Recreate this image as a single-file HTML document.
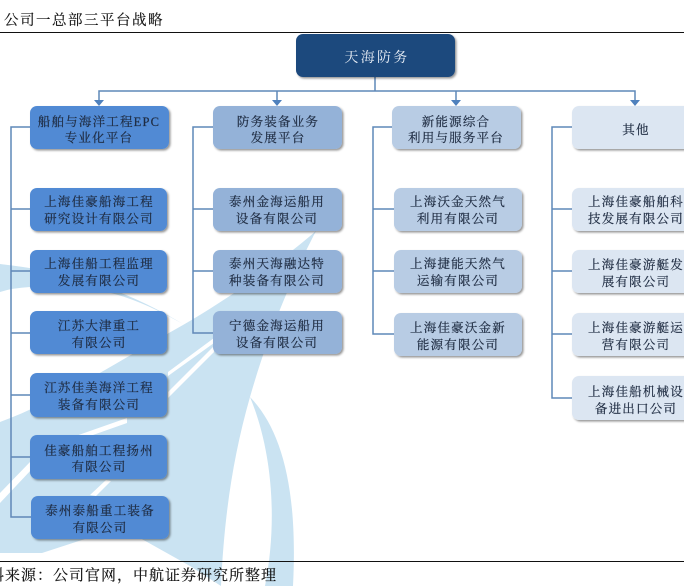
<!DOCTYPE html>
<html lang="zh">
<head>
<meta charset="utf-8">
<style>
html,body{margin:0;padding:0;background:#fff;}
body{width:684px;height:586px;overflow:hidden;}
svg{display:block;}
text{font-family:"Liberation Serif","Noto Serif CJK SC",serif;}
.t{font-size:12.5px;letter-spacing:1.2px;text-anchor:middle;fill:#1f2c42;stroke:#1f2c42;stroke-width:.2px;}
.w{fill:#e8eef6;font-size:14px;letter-spacing:2.3px;text-anchor:middle;}
.c{fill:none;stroke:#5f88b8;stroke-width:1.5;}
.a{fill:#4f81bd;}
</style>
</head>
<body>
<svg width="684" height="586" viewBox="0 0 684 586" xmlns="http://www.w3.org/2000/svg">
<defs>
<filter id="s" x="-10%" y="-15%" width="125%" height="135%">
<feDropShadow dx="1.5" dy="1.5" stdDeviation="1.1" flood-color="#000" flood-opacity=".42"/>
</filter>
</defs>

<!-- watermark -->
<g fill="#cae3f2">
<path d="M0 264 C50 270 110 280 183 324 C140 300 100 282 30 287 Q12 288 0 292Z"/>
<path d="M316 231 C300 262 272 320 250 397 C232 460 224 520 221 586 L190 566 L140 538 L85 539 L42 553 L0 553 L0 422 C60 400 120 360 183 325 C230 298 280 262 316 231Z"/>
<path d="M250 397 C282 430 298 490 293 586 L265 586 C278 520 272 450 250 397Z"/>
</g>
<g fill="#fff">
<path d="M214 338 L168 372 L168 376 L214 343Z"/>
<path d="M214 346 L168 392 L168 398 L214 352Z"/>
<path d="M127 418 L70 438 L76 441 L127 423Z"/>
<path d="M30 462 L0 493 L0 503 L32 469Z"/>
<path d="M106 480 L90 495 L96 496 L111 481Z"/>
</g>

<!-- rules -->
<rect x="0" y="32" width="684" height="1" fill="#111"/>
<rect x="0" y="561" width="684" height="1" fill="#111"/>
<text x="4" y="25" font-size="14.5" letter-spacing="1.5" fill="#111" stroke="#111" stroke-width=".15">公司一总部三平台战略</text>
<text x="-11" y="580" font-size="15" letter-spacing="1" fill="#111" stroke="#111" stroke-width=".15">料来源：公司官网，中航证券研究所整理</text>

<!-- connectors -->
<path class="c" d="M375 77V91M99 101V91H635V101M277 91V101M456 91V101"/>
<path class="a" d="M94 100h10l-5 6zM272 100h10l-5 6zM451 100h10l-5 6zM630 100h10l-5 6z"/>
<path class="c" d="M30 127H11V517H31M11 209H30M11 271H30M11 333H30M11 395H30M11 457H30"/>
<path class="c" d="M213 127H193V333H213M193 209H213M193 271H213"/>
<path class="c" d="M392 127H373V334H394M373 209H394M373 271H394"/>
<path class="c" d="M572 127H552V398H572M552 209H572M552 271H572M552 334H572"/>

<!-- top -->
<rect x="296" y="34" width="159" height="43" rx="7" fill="#1f497d" filter="url(#s)"/>
<text class="w" x="377" y="62">天海防务</text>

<!-- column 1 -->
<g fill="#518ad4" filter="url(#s)">
<rect x="30" y="106" width="139" height="43" rx="7"/>
<rect x="30" y="188" width="137" height="43" rx="7"/>
<rect x="30" y="250" width="137" height="43" rx="7"/>
<rect x="30" y="311" width="137" height="43" rx="7"/>
<rect x="30" y="373" width="137" height="44" rx="7"/>
<rect x="30" y="435" width="137" height="44" rx="7"/>
<rect x="31" y="496" width="138" height="43" rx="7"/>
</g>
<g transform="translate(0,1)">
<text class="t" x="99" y="125">船舶与海洋工程EPC</text><text class="t" x="99" y="141">专业化平台</text>
<text class="t" x="99" y="205">上海佳豪船海工程</text><text class="t" x="99" y="222">研究设计有限公司</text>
<text class="t" x="99" y="267">上海佳船工程监理</text><text class="t" x="99" y="284">发展有限公司</text>
<text class="t" x="99" y="329">江苏大津重工</text><text class="t" x="99" y="346">有限公司</text>
<text class="t" x="99" y="391">江苏佳美海洋工程</text><text class="t" x="99" y="408">装备有限公司</text>
<text class="t" x="99" y="454">佳豪船舶工程扬州</text><text class="t" x="99" y="470">有限公司</text>
<text class="t" x="100" y="514">泰州泰船重工装备</text><text class="t" x="100" y="531">有限公司</text>
</g>

<!-- column 2 -->
<g fill="#94b2d8" filter="url(#s)">
<rect x="213" y="106" width="129" height="43" rx="7"/>
<rect x="213" y="188" width="129" height="43" rx="7"/>
<rect x="213" y="250" width="129" height="43" rx="7"/>
<rect x="213" y="311" width="129" height="43" rx="7"/>
</g>
<g transform="translate(0,1)">
<text class="t" x="278" y="125">防务装备业务</text><text class="t" x="278" y="141">发展平台</text>
<text class="t" x="277" y="205">泰州金海运船用</text><text class="t" x="277" y="222">设备有限公司</text>
<text class="t" x="277" y="267">泰州天海融达特</text><text class="t" x="277" y="284">种装备有限公司</text>
<text class="t" x="277" y="329">宁德金海运船用</text><text class="t" x="277" y="346">设备有限公司</text>
</g>

<!-- column 3 -->
<g fill="#b8cce4" filter="url(#s)">
<rect x="392" y="106" width="129" height="43" rx="7"/>
<rect x="394" y="188" width="128" height="43" rx="7"/>
<rect x="394" y="250" width="128" height="43" rx="7"/>
<rect x="394" y="313" width="128" height="43" rx="7"/>
</g>
<g transform="translate(0,1)">
<text class="t" x="456" y="125">新能源综合</text><text class="t" x="456" y="141">利用与服务平台</text>
<text class="t" x="458" y="205">上海沃金天然气</text><text class="t" x="458" y="222">利用有限公司</text>
<text class="t" x="458" y="267">上海捷能天然气</text><text class="t" x="458" y="284">运输有限公司</text>
<text class="t" x="458" y="331">上海佳豪沃金新</text><text class="t" x="458" y="348">能源有限公司</text>
</g>

<!-- column 4 -->
<g fill="#dce6f2" filter="url(#s)">
<rect x="572" y="106" width="130" height="43" rx="7"/>
<rect x="572" y="188" width="130" height="43" rx="7"/>
<rect x="572" y="250" width="130" height="43" rx="7"/>
<rect x="572" y="313" width="130" height="43" rx="7"/>
<rect x="572" y="376" width="130" height="44" rx="7"/>
</g>
<g transform="translate(0,1)">
<text class="t" x="636" y="133">其他</text>
<text class="t" x="636" y="205">上海佳豪船舶科</text><text class="t" x="636" y="222">技发展有限公司</text>
<text class="t" x="636" y="268">上海佳豪游艇发</text><text class="t" x="636" y="285">展有限公司</text>
<text class="t" x="636" y="331">上海佳豪游艇运</text><text class="t" x="636" y="348">营有限公司</text>
<text class="t" x="636" y="395">上海佳船机械设</text><text class="t" x="636" y="412">备进出口公司</text>
</g>
</svg>
</body>
</html>
